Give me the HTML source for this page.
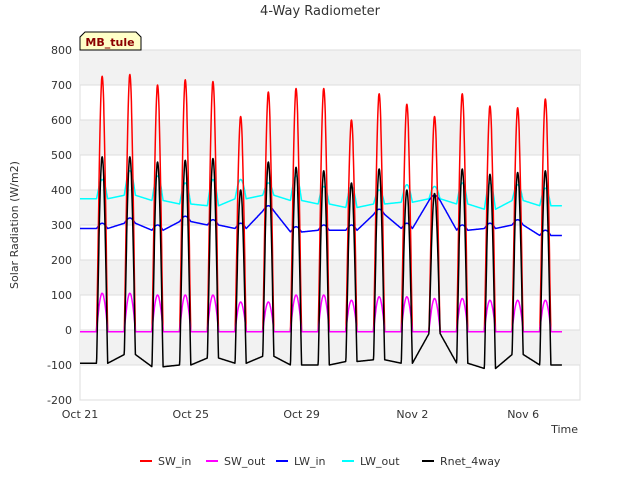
<!DOCTYPE html>
<html><head><meta charset="utf-8"><style>
body{margin:0;background:#fff;font-family:"Liberation Sans",sans-serif}
svg text{font-family:"DejaVu Sans","Liberation Sans",sans-serif}
</style></head><body>
<svg id="c" width="640" height="480" xmlns="http://www.w3.org/2000/svg">
<text x="320" y="15" text-anchor="middle" font-size="13" fill="#333">4-Way Radiometer</text>
<g id="grid"></g>
<g id="ticks" font-size="11" fill="#333"></g>
<g id="series" fill="none" stroke-width="1.5" stroke-linejoin="round"></g>
<g>
<path d="M80,50 L80,37 L85,32 L136,32 L141,37 L141,50 Z" fill="#ffffc8" stroke="#000" stroke-width="1"/>
<text x="110" y="46" text-anchor="middle" font-size="11" font-weight="bold" fill="#8b0000">MB_tule</text>
</g>
<text x="18" y="225" transform="rotate(-90 18 225)" text-anchor="middle" font-size="11" fill="#333">Solar Radiation (W/m2)</text>
<text x="578" y="433" text-anchor="end" font-size="11" fill="#333">Time</text>
<g id="legend" font-size="11" fill="#333"></g>
</svg>
<script>
const yTicks=[-200,-100,0,100,200,300,400,500,600,700,800];
const xTickLabels=["Oct 21","Oct 25","Oct 29","Nov 2","Nov 6"];
const xTickDays=[0,4,8,12,16];
const swInPeak=[725,730,700,715,710,610,680,690,690,600,675,645,610,675,640,635,660];
const swOutPeak=[105,105,100,100,100,80,80,100,100,85,95,95,90,90,85,85,85];
const lwInBase=[290,305,285,310,300,290,340,280,285,285,330,290,370,285,290,300,270];
const lwOutNight=[375,385,370,360,355,375,385,370,360,350,360,365,375,360,345,370,355];
const lwOutPeak=[430,455,440,420,430,430,420,440,410,410,400,415,410,420,420,415,405];
const rnetPeak=[495,495,480,485,490,400,480,465,455,420,460,400,390,460,445,450,455];
const rnetNight=[-95,-70,-105,-100,-80,-95,-75,-100,-100,-90,-85,-95,-10,-95,-110,-70,-100];
const seriesNames=["SW_in","SW_out","LW_in","LW_out","Rnet_4way"];
const seriesColors=["#ff0000","#ff00ff","#0000ff","#00ffff","#000000"];
const X0=80,X1=580,Y0=400,Y1=50,dayPx=27.7;
const xs=d=>X0+d*dayPx;
const ys=v=>Y0-(v+200)*(Y0-Y1)/1000;
const NS="http://www.w3.org/2000/svg";
function mk(tag,attrs,parent){const e=document.createElementNS(NS,tag);for(const k in attrs)e.setAttribute(k,attrs[k]);parent.appendChild(e);return e;}
const grid=document.getElementById('grid');
const bg=mk('rect',{x:X0,y:Y1,width:X1-X0,height:Y0-Y1,fill:'#fff',stroke:'#ddd'},grid);


for(let v=-100;v<800;v+=200){
 const r=mk('rect',{x:X0,y:ys(v+100),width:X1-X0,height:ys(v)-ys(v+100),fill:'#f2f2f2'},grid);
 
 
}
const tk=document.getElementById('ticks');
yTicks.forEach(v=>{
 const l=mk('line',{x1:X0,x2:X1,y1:ys(v),y2:ys(v),stroke:'#ddd'},grid);
 
 
 const t=mk('text',{x:X0-8,y:ys(v)+4,'text-anchor':'end'},tk);t.textContent=v;
 
 
});
xTickLabels.forEach((s,i)=>{
 const t=mk('text',{x:xs(xTickDays[i]),y:Y0+18,'text-anchor':'middle'},tk);t.textContent=s;
 
 
});
const days=swInPeak.length;
const pts=[[],[],[],[],[]];
function nightBlend(arr,d,f){
 const cur=arr[Math.min(d,days-1)],prev=arr[Math.max(0,Math.min(d-1,days-1))];
 if(f<0.6)return prev+(cur-prev)*f/0.6;
 return cur;
}
for(let d=0;d<=days;d++){
 for(let k=0;k<96;k++){
  const f=k/96;
  if(d+f>17.4)break;
  const dd=Math.min(d,days-1);
  const s=(d<days&&f>0.6&&f<1)?Math.sin(Math.PI*(f-0.6)/0.4):0;
  const x=xs(d+f);
  pts[0].push([x,ys(s>0?swInPeak[dd]*Math.pow(s,1.2):-5)]);
  pts[1].push([x,ys(s>0?swOutPeak[dd]*s:-5)]);
  pts[2].push([x,ys(nightBlend(lwInBase,d,f)+15*s)]);
  const ln=nightBlend(lwOutNight,d,f);
  pts[3].push([x,ys(ln+(lwOutPeak[dd]-ln)*s)]);
  const rn=nightBlend(rnetNight,d,f);
  pts[4].push([x,ys(rn+(rnetPeak[dd]-rn)*Math.pow(s,1.1))]);
 }
}
const sg=document.getElementById('series');
[3,2,0,1,4].forEach(i=>{
 const p=mk('polyline',{points:pts[i].map(q=>q[0].toFixed(1)+','+q[1].toFixed(1)).join(' '),stroke:seriesColors[i]},sg);
 
 
});
const lg=document.getElementById('legend');
const lx=[140,206,276,342,422];
seriesNames.forEach((n,i)=>{
 const g=mk('g',{},lg);
 
 
 mk('line',{x1:lx[i],x2:lx[i]+12,y1:461,y2:461,stroke:seriesColors[i],'stroke-width':2},g);
 const t=mk('text',{x:lx[i]+18,y:465},g);t.textContent=n;
});
</script>
</body></html>
